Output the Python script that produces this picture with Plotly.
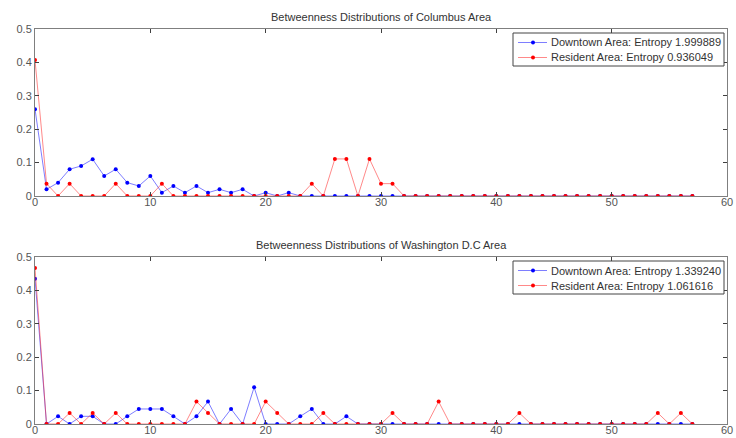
import plotly.graph_objects as go
from plotly.subplots import make_subplots

# Betweenness distributions (fraction of nodes per betweenness bin)
bins = list(range(58))

columbus_downtown = [0.26, 0.02, 0.04, 0.08, 0.09, 0.11, 0.06, 0.08, 0.04, 0.03,
                     0.06, 0.01, 0.03, 0.01, 0.03, 0.01, 0.02, 0.01, 0.02, 0.0,
                     0.01, 0.0, 0.01, 0.0, 0.0, 0.0, 0.0, 0.0, 0.0, 0.0,
                     0.0, 0.0] + [0.0] * 26
columbus_resident = [0.407, 0.037, 0.0, 0.037, 0.0, 0.0, 0.0, 0.037, 0.0, 0.0,
                     0.0, 0.037, 0.0, 0.0, 0.0, 0.0, 0.0, 0.0, 0.0, 0.0,
                     0.0, 0.0, 0.0, 0.0, 0.037, 0.0, 0.111, 0.111, 0.0, 0.111,
                     0.037, 0.037] + [0.0] * 26

dc_downtown = [0.435, 0.0, 0.023, 0.0, 0.023, 0.023, 0.0, 0.0, 0.023, 0.045,
               0.045, 0.045, 0.023, 0.0, 0.023, 0.067, 0.0, 0.045, 0.0, 0.11,
               0.0, 0.0, 0.0, 0.023, 0.045, 0.0, 0.0, 0.023, 0.0, 0.0] + [0.0] * 28
dc_resident = [0.467, 0.0, 0.0, 0.033, 0.0, 0.033, 0.0, 0.033, 0.0, 0.0,
               0.0, 0.0, 0.0, 0.0, 0.067, 0.033, 0.0, 0.0, 0.0, 0.0,
               0.067, 0.033, 0.0, 0.0, 0.0, 0.033, 0.0, 0.0, 0.0, 0.0,
               0.0, 0.033, 0.0, 0.0, 0.0, 0.067, 0.0, 0.0, 0.0, 0.0,
               0.0, 0.0, 0.033, 0.0, 0.0, 0.0, 0.0, 0.0, 0.0, 0.0,
               0.0, 0.0, 0.0, 0.0, 0.033, 0.0, 0.033, 0.0]

titles = ["Betweenness Distributions of Columbus Area",
          "Betweenness Distributions of Washington D.C Area"]
downtown_names = ["Downtown Area: Entropy 1.999889", "Downtown Area: Entropy 1.339240"]
resident_names = ["Resident Area: Entropy 0.936049", "Resident Area: Entropy 1.061616"]

x_ticks = [0, 10, 20, 30, 40, 50, 60]
y_ticks = [0, 0.1, 0.2, 0.3, 0.4, 0.5]

W, H = 736, 438
ML, MR, MT, MB = 35, 9, 29, 14
plot_w = W - ML - MR
plot_h = H - MT - MB
panel_h = 167
panel_tops = [MT, H - MB - panel_h]          # pixel top of each panel


def px_x(p):
    return (p - ML) / plot_w


def px_y(p):
    return 1 - (p - MT) / plot_h


domains = [[px_y(t + panel_h), px_y(t)] for t in panel_tops]

blue_line = "rgba(40,40,255,0.6)"
red_line = "rgba(255,40,40,0.55)"
blue_mark = "#0000ff"
red_mark = "#ff0000"
FONT = "Liberation Sans"

fig = make_subplots(rows=2, cols=1)

series = [(columbus_downtown, columbus_resident),
          (dc_downtown, dc_resident)]
for i, (down, res) in enumerate(series, start=1):
    fig.add_trace(go.Scatter(
        x=bins, y=down, mode="lines+markers", name=downtown_names[i - 1],
        line=dict(color=blue_line, width=1),
        marker=dict(color=blue_mark, size=4, symbol="circle"),
        showlegend=False), row=i, col=1)
    fig.add_trace(go.Scatter(
        x=bins, y=res, mode="lines+markers", name=resident_names[i - 1],
        line=dict(color=red_line, width=1),
        marker=dict(color=red_mark, size=4, symbol="circle"),
        showlegend=False), row=i, col=1)

axis_common = dict(
    showline=True, linecolor="#7f7f7f", linewidth=1, mirror="allticks",
    ticks="inside", ticklen=4, tickcolor="#404040", showgrid=False,
    zeroline=False, automargin=False,
    tickfont=dict(family=FONT, size=11, color="#555555"),
)
fig.update_xaxes(range=[0, 60], tickvals=x_ticks, ticktext=[str(t) for t in x_ticks],
                 ticklabelstandoff=-4, **axis_common)
fig.update_yaxes(range=[0, 0.5], tickvals=y_ticks, ticktext=[f"{t:g}" for t in y_ticks],
                 **axis_common)
fig.update_yaxes(domain=domains[0], row=1, col=1)
fig.update_yaxes(domain=domains[1], row=2, col=1)

# Panel titles
for t, top in zip(titles, panel_tops):
    fig.add_annotation(text=t, x=0.5, y=px_y(top - 12), xref="paper", yref="paper",
                       showarrow=False, yanchor="middle",
                       font=dict(family=FONT, size=11, color="#333333"))

# Compact boxed legend in the upper-right corner of each panel
box_l, box_r = 513, 724
for k, top in enumerate(panel_tops):
    b_top = top + 4
    b_bot = b_top + 33
    fig.add_shape(type="rect", xref="paper", yref="paper",
                  x0=px_x(box_l), x1=px_x(box_r), y0=px_y(b_bot), y1=px_y(b_top),
                  line=dict(color="#444444", width=1), fillcolor="white", layer="above")
    rows = [(downtown_names[k], blue_line, blue_mark, b_top + 9.5),
            (resident_names[k], red_line, red_mark, b_top + 24.5)]
    for name, lc, mc, yy in rows:
        fig.add_shape(type="line", xref="paper", yref="paper",
                      x0=px_x(518), x1=px_x(547), y0=px_y(yy), y1=px_y(yy),
                      line=dict(color=lc, width=1), layer="above")
        fig.add_shape(type="circle", xref="paper", yref="paper",
                      x0=px_x(531), x1=px_x(535), y0=px_y(yy + 2), y1=px_y(yy - 2),
                      line=dict(width=0), fillcolor=mc, layer="above")
        fig.add_annotation(text=name, x=px_x(549), y=px_y(yy), xref="paper", yref="paper",
                           xanchor="left", yanchor="middle", showarrow=False,
                           font=dict(family=FONT, size=11, color="#333333"))

fig.update_layout(
    width=W, height=H,
    margin=dict(l=ML, r=MR, t=MT, b=MB, autoexpand=False),
    plot_bgcolor="white", paper_bgcolor="white",
    showlegend=False,
)

fig.write_html("out.html")
